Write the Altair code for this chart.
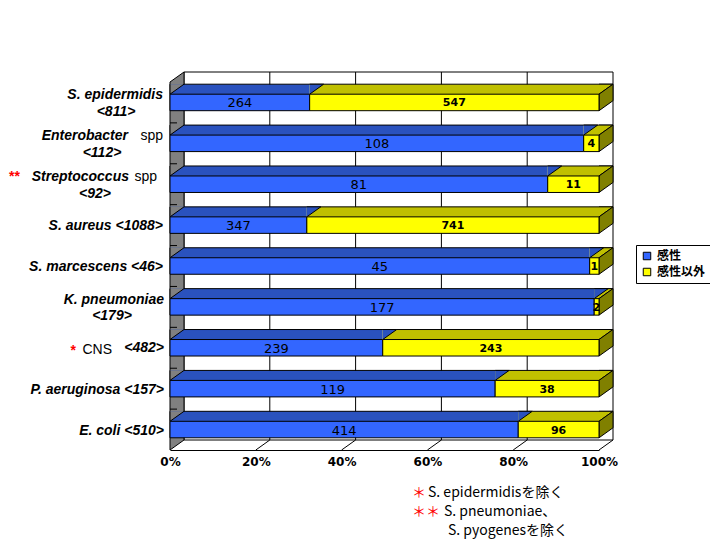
import altair as alt
import pandas as pd

# ---------------- data ----------------
categories = ["S. epidermidis <811>", "Enterobacter spp <112>", "Streptococcus spp <92>",
              "S. aureus <1088>", "S. marcescens <46>", "K. pneumoniae <179>",
              "CNS <482>", "P. aeruginosa <157>", "E. coli <510>"]
sensitive = [264, 108, 81, 347, 45, 177, 239, 119, 414]
not_sensitive = [547, 4, 11, 741, 1, 2, 243, 38, 96]
series = ["感性", "感性以外"]
x_ticks = [0, 0.2, 0.4, 0.6, 0.8, 1.0]
note_lines = ["S. epidermidisを除く", "S. pneumoniae、", "S. pyogenesを除く"]
note_marks = ["＊", "＊＊"]

rows = []
for c, a, b in zip(categories, sensitive, not_sensitive):
    rows.append({"category": c, "series": series[0], "count": a, "order": 0})
    rows.append({"category": c, "series": series[1], "count": b, "order": 1})
df = pd.DataFrame(rows)
cat_df = pd.DataFrame({"category": categories})
tick_df = pd.DataFrame({"v": x_ticks})
one = pd.DataFrame({"k": [0]})

# ---------------- geometry / style ----------------
W, H = 429, 368
DX, DY = 14, 10
N = len(categories)
STEP = H / N
BAND = 16.5
PI = 1 - BAND / STEP
HALF = BAND / 2

BLUE, YELLOW = "#3366FF", "#FFFF00"
BLUE_TOP, YELLOW_TOP = "#2A52BE", "#C0C000"
SIDE = "#808000"
WALL = "#808080"

xscale = alt.Scale(domain=[0, 1], nice=False, zero=False)
yscale = alt.Scale(domain=categories, paddingInner=PI, paddingOuter=PI / 2)
Y = alt.Y("category:N", scale=yscale, axis=None)

x_axis = alt.Axis(values=x_ticks, format="%", title=None, ticks=False, grid=False,
                  domainColor="black", domainWidth=1, labelFont="DejaVu Sans",
                  labelFontWeight="bold", labelFontSize=12, labelColor="black",
                  labelPadding=6, labelFlush=False, labelOverlap=False, zindex=1)


def XF(field):
    return alt.X(field + ":Q", scale=xscale, axis=x_axis)


def XD(v):
    return alt.X(datum=v, type="quantitative", scale=xscale, axis=x_axis)


is_blue = "datum.series === '感性'"
not_blue = "datum.series !== '感性'"

stacked = alt.Chart(df).transform_stack(
    stack="count", groupby=["category"], as_=["s0", "s1"],
    sort=[alt.SortField("order", order="ascending")], offset="normalize"
).transform_calculate(mid="(datum.s0 + datum.s1) / 2")

# back wall
back_wall = alt.Chart(one).mark_rect(
    fill="white", stroke="black", strokeWidth=1,
    xOffset=DX, x2Offset=DX, yOffset=-DY, y2Offset=-DY
).encode(x=XD(0), x2=alt.X2(datum=1), y=alt.value(0), y2=alt.value(H))

grid = alt.Chart(tick_df).transform_filter("datum.v > 0 && datum.v < 1").mark_rule(
    color="black", strokeWidth=1, xOffset=DX, yOffset=-DY, y2Offset=-DY
).encode(x=XF("v"), y=alt.value(0), y2=alt.value(H))

wall_path = f"M0,0 L{DX},{-DY} L{DX},{H - DY} L0,{H} Z"
wall = alt.Chart(one).mark_point(
    shape=wall_path, size=4, filled=True, fill=WALL, stroke="black",
    strokeWidth=1, opacity=1
).encode(x=XD(0), y=alt.value(0))

floor = alt.Chart(tick_df).transform_filter("datum.v > 0").mark_rule(
    color="black", strokeWidth=1, x2Offset=DX
).encode(x=XF("v"), x2="v", y=alt.value(H), y2=alt.value(H - DY))

wall_ticks = alt.Chart(pd.DataFrame({"category": categories[:-1]})).mark_rule(
    color="black", strokeWidth=1, x2Offset=7, yOffset=STEP / 2
).encode(x=XD(0), x2=alt.X2(datum=0), y=Y)

top_faces = stacked.mark_bar(yOffset=-DY, strokeWidth=0).encode(
    x=XF("s0"), x2="s1", y=Y,
    fill=alt.condition(is_blue, alt.value(BLUE_TOP), alt.value(YELLOW_TOP)))

back_edges = stacked.mark_rule(
    color="black", strokeWidth=1, xOffset=DX, x2Offset=DX, yOffset=-(HALF + DY)
).encode(x=XF("s0"), x2="s1", y=Y)

tri_path = f"M0,{-HALF} L{DX},{-HALF - DY} L0,{-HALF - DY}"
tri_y = stacked.transform_filter(not_blue).mark_point(
    shape=tri_path, size=4, filled=True, fill=YELLOW_TOP, stroke="black",
    strokeWidth=1, opacity=1).encode(x=XF("s1"), y=Y)
tri_b = stacked.transform_filter(is_blue).mark_point(
    shape=tri_path, size=4, filled=True, fill=BLUE_TOP, stroke="black",
    strokeWidth=1, opacity=1).encode(x=XF("s1"), y=Y)

left_path = f"M0,{-HALF - DY} L0,{-HALF} L{DX},{-HALF - DY}"
left_tri = alt.Chart(cat_df).mark_point(
    shape=left_path, size=4, filled=True, fill=WALL, stroke="black",
    strokeWidth=1, opacity=1).encode(x=XD(0), y=Y)

side_path = f"M0,{-HALF} L{DX},{-HALF - DY} L{DX},{HALF - DY} L0,{HALF} Z"
side = alt.Chart(cat_df).mark_point(
    shape=side_path, size=4, filled=True, fill=SIDE, stroke="black",
    strokeWidth=1, opacity=1).encode(x=XD(1), y=Y)

legend = alt.Legend(title=None, orient="none", legendX=466, legendY=163,
                    direction="vertical", padding=5, rowPadding=4,
                    strokeColor="black", fillColor="white", symbolType="square",
                    symbolSize=56, symbolStrokeColor="black", symbolStrokeWidth=1,
                    symbolOpacity=1, labelFont="Noto Sans CJK JP", labelFontSize=12,
                    labelFontWeight="bold", labelColor="black", labelOffset=4,
                    cornerRadius=0)

front = stacked.mark_bar(stroke="black", strokeWidth=1, opacity=1).encode(
    x=XF("s0"), x2="s1", y=Y,
    color=alt.Color("series:N", scale=alt.Scale(domain=series, range=[BLUE, YELLOW]),
                    legend=legend))

num_b = stacked.transform_filter(is_blue).mark_text(
    font="DejaVu Sans", fontSize=13, color="black", baseline="middle", align="center", dy=1
).encode(x=XF("mid"), y=Y, text="count:Q")
num_y = stacked.transform_filter(not_blue).mark_text(
    font="DejaVu Sans", fontSize=11, fontWeight="bold", color="black",
    baseline="middle", align="center", dy=1
).encode(x=XF("mid"), y=Y, text="count:Q")

# category labels (pieces with mixed styles)
STYLES = {
    "it": dict(font="Liberation Sans", fontSize=14, fontWeight="bold", fontStyle="italic", color="black"),
    "rm": dict(font="Liberation Sans", fontSize=14, color="black"),
    "red": dict(font="Liberation Sans", fontSize=14, fontWeight="bold", color="#FF0000"),
}
label_pieces = [
    (0, "S. epidermidis", -7, "right", -7, "it"),
    (0, "<811>", -54, "center", 10, "it"),
    (1, "Enterobacter", -42, "right", -7, "it"),
    (1, "spp", -7, "right", -7, "rm"),
    (1, "<112>", -68, "center", 10, "it"),
    (2, "**", -161, "left", -7, "red"),
    (2, "Streptococcus", -41, "right", -7, "it"),
    (2, "spp", -13, "right", -7, "rm"),
    (2, "<92>", -75, "center", 10, "it"),
    (3, "S. aureus <1088>", -7, "right", 1, "it"),
    (4, "S. marcescens <46>", -7, "right", 1, "it"),
    (5, "K. pneumoniae", -6, "right", -7, "it"),
    (5, "<179>", -58, "center", 9, "it"),
    (6, "*", -94, "right", 3, "red"),
    (6, "CNS", -58, "right", 2, "rm"),
    (6, "<482>", -6, "right", 0, "it"),
    (7, "P. aeruginosa <157>", -6, "right", 1, "it"),
    (8, "E. coli <510>", -6, "right", 1, "it"),
]
label_layers = []
for i, txt, px, al, dy, st in label_pieces:
    label_layers.append(
        alt.Chart(pd.DataFrame({"category": [categories[i]], "t": [txt]})).mark_text(
            align=al, baseline="middle", dy=dy, **STYLES[st]
        ).encode(x=alt.value(px), y=Y, text="t:N"))

# notes
note_specs = [
    (note_marks[0], 242, 411, "#FF0000"),
    (note_lines[0], 258, 411, "black"),
    (note_marks[1], 242, 430, "#FF0000"),
    (note_lines[1], 274, 430, "black"),
    (note_lines[2], 278, 449, "black"),
]
note_layers = []
for txt, px, py, col in note_specs:
    note_layers.append(
        alt.Chart(pd.DataFrame({"t": [txt]})).mark_text(
            align="left", baseline="middle", font="Noto Sans CJK JP", fontSize=14, color=col
        ).encode(x=alt.value(px), y=alt.value(py), text="t:N"))

chart = alt.layer(
    back_wall, grid, wall, floor, wall_ticks, top_faces, back_edges,
    tri_y, tri_b, left_tri, side, front, num_b, num_y,
    *label_layers, *note_layers
).properties(
    width=W, height=H,
    padding={"left": 162, "top": 74, "right": 111, "bottom": 93},
    autosize=alt.AutoSizeParams(type="none"),
).configure(background="white").configure_view(stroke=None)

chart.save("out.html", embed_options={"renderer": "svg", "actions": False})
